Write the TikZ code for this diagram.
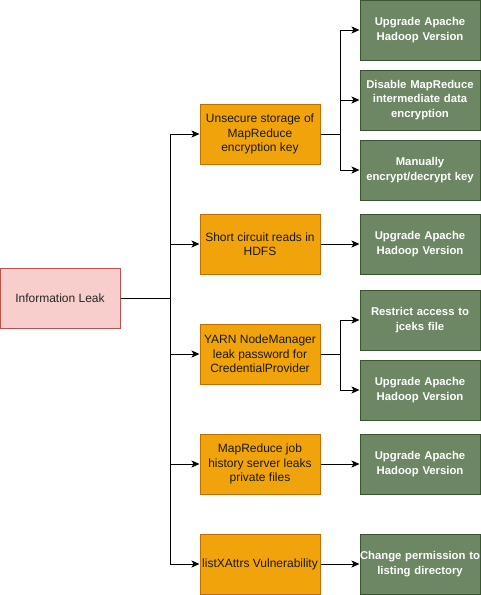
\documentclass[tikz,border=0pt]{standalone}
\usepackage{fontspec}
\setmainfont{Liberation Sans}
\usetikzlibrary{arrows.meta}
\definecolor{pinkF}{HTML}{F8CECC}
\definecolor{pinkS}{HTML}{B85450}
\definecolor{orgF}{HTML}{F0A30A}
\definecolor{orgS}{HTML}{BD7000}
\definecolor{grnF}{HTML}{6D8764}
\definecolor{grnS}{HTML}{3A5431}
\tikzset{
  box/.style={minimum width=120pt, minimum height=60pt, inner sep=0pt, align=center, line width=1pt,
    font=\fontsize{12}{14.4}\selectfont},
  root/.style={box, fill=pinkF, draw=pinkS, text=black!85},
  threat/.style={box, fill=orgF, draw=orgS, text=black!90},
  fix/.style={box, text width=120pt, fill=grnF, draw=grnS, text=white, font=\fontsize{11.3}{14.4}\selectfont\bfseries},
  arr/.style={line width=1pt, -{Stealth[length=8pt,width=7pt,inset=2pt]}},
}
\begin{document}
\begin{tikzpicture}[x=1pt,y=-1pt]
\useasboundingbox (0,0) rectangle (481,595);
\node[root] (il) at (60,298) {Information Leak};
\node[threat] (o1) at (260,134) {Unsecure storage of\\MapReduce\\encryption key};
\node[threat] (o2) at (260,244) {Short circuit reads in\\HDFS};
\node[threat] (o3) at (260,354) {YARN NodeManager\\leak password for\\CredentialProvider};
\node[threat] (o4) at (260,464) {MapReduce job\\history server leaks\\private files};
\node[threat] (o5) at (260,564) {listXAttrs Vulnerability};
\node[fix] (g1) at (420,30) {Upgrade Apache\\Hadoop Version};
\node[fix] (g2) at (420,100) {Disable MapReduce\\intermediate data\\encryption};
\node[fix] (g3) at (420,170) {Manually\\encrypt/decrypt key};
\node[fix] (g4) at (420,244) {Upgrade Apache\\Hadoop Version};
\node[fix] (g5) at (420,320) {Restrict access to\\jceks file};
\node[fix] (g6) at (420,390) {Upgrade Apache\\Hadoop Version};
\node[fix] (g7) at (420,464) {Upgrade Apache\\Hadoop Version};
\node[fix] (g8) at (420,564) {Change permission to\\listing directory};
\coordinate (trunk) at (170,298);
\coordinate (b1) at (340,134);
\coordinate (b3) at (340,354);
\foreach \o in {o1,o2,o3,o4,o5}
  \draw[arr] (il.east) -- (trunk) |- (\o.west);
\foreach \g in {g1,g2,g3}
  \draw[arr] (o1.east) -- (b1) |- (\g.west);
\foreach \g in {g5,g6}
  \draw[arr] (o3.east) -- (b3) |- (\g.west);
\draw[arr] (o2) -- (g4);
\draw[arr] (o4) -- (g7);
\draw[arr] (o5) -- (g8);
\end{tikzpicture}
\end{document}
